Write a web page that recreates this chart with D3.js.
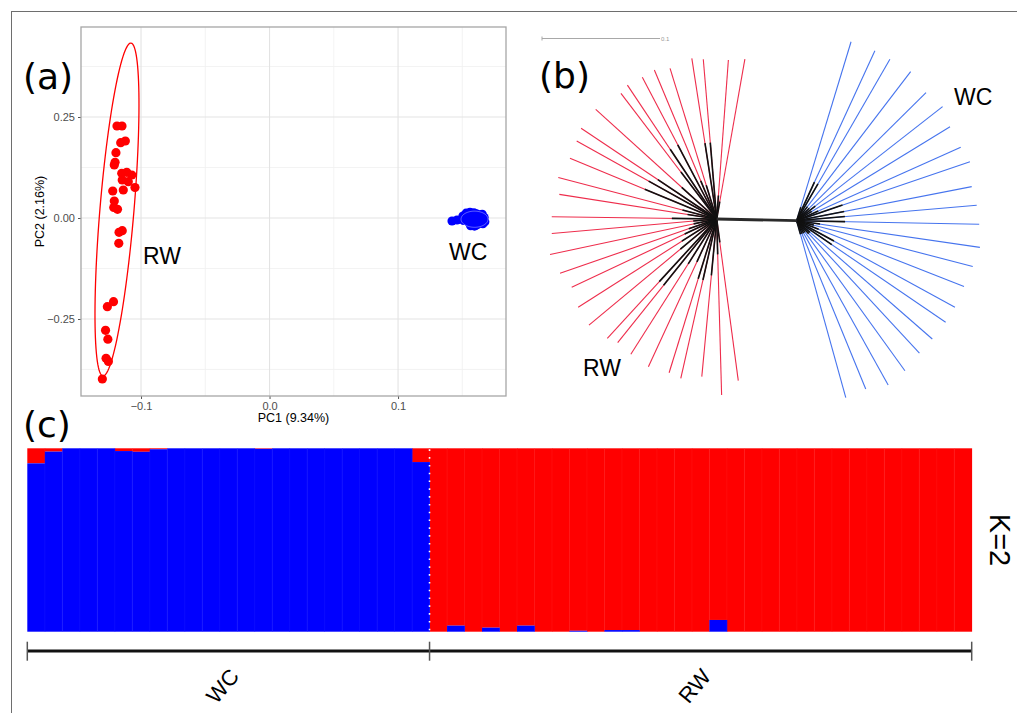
<!DOCTYPE html>
<html>
<head>
<meta charset="utf-8">
<script src="https://cdn.jsdelivr.net/npm/d3@7"></script>
<style>
  body { margin: 0; background: #fff; }
  svg { display: block; }
</style>
</head>
<body>
<svg id="fig"></svg>
<script>
// ---- (a) PCA scores ----
const rwPC = [
  [-0.1187, 0.2277], [-0.1148, 0.2277], [-0.1158, 0.1864], [-0.1122, 0.1906],
  [-0.1195, 0.1616], [-0.1202, 0.1379], [-0.1208, 0.1312], [-0.1150, 0.1106],
  [-0.1111, 0.1131], [-0.1072, 0.1064], [-0.1146, 0.0941], [-0.1099, 0.0899],
  [-0.1047, 0.0755], [-0.1138, 0.0693], [-0.1220, 0.0668], [-0.1208, 0.0421],
  [-0.1212, 0.0260], [-0.1183, 0.0215], [-0.1146, -0.0314], [-0.1171, -0.0354],
  [-0.1173, -0.0626], [-0.1214, -0.2072], [-0.1262, -0.2196], [-0.1276, -0.2780],
  [-0.1258, -0.3000], [-0.1272, -0.3473], [-0.1254, -0.3550], [-0.1301, -0.3985]
];
const wcPC = [
  [0.1420, -0.0074], [0.1459, -0.0050], [0.1505, 0.0050], [0.1510, -0.0060],
  [0.1530, 0.0120], [0.1540, 0.0000], [0.1550, -0.0110], [0.1560, 0.0140],
  [0.1570, 0.0060], [0.1575, -0.0040], [0.1580, -0.0150], [0.1590, 0.0130],
  [0.1600, 0.0030], [0.1605, -0.0080], [0.1610, 0.0100], [0.1615, -0.0170],
  [0.1620, 0.0000], [0.1630, 0.0080], [0.1635, -0.0120], [0.1640, 0.0040],
  [0.1650, -0.0050], [0.1655, 0.0090], [0.1660, -0.0140], [0.1670, 0.0010],
  [0.1675, -0.0090], [0.1565, -0.0190], [0.1595, -0.0200]
];
// ellipse: centre, major axis vector, minor axis vector (PC units)
const rwEllipse = [-0.1187, 0.0210, 0.0109, 0.4121, 0.0132, -0.0035];
const wcEllipse = [0.1595, -0.0030, 0.0105, 0.0, 0.0, 0.0200];
const xTicks = [-0.1, 0.0, 0.1];
const xMinor = [-0.05, 0.05, 0.15];
const yTicks = [-0.25, 0.0, 0.25];
const yMinor = [-0.375, -0.125, 0.125, 0.375];

// ---- (b) unrooted NJ tree: [angle deg, tip length, black inner length] ----
const rwTree = [
  [98.8, 0.1378, 0.065], [94.8, 0.1358, 0.065], [85.8, 0.1351, 0.020], [80.0, 0.1375, 0.015],
  [107.2, 0.1337, 0.030], [112.7, 0.1369, 0.035], [117.7, 0.1356, 0.071], [123.7, 0.1364, 0.071],
  [127.3, 0.1339, 0.050], [137.8, 0.1384, 0.040], [146.2, 0.1383, 0.060], [150.9, 0.1358, 0.066],
  [157.5, 0.1346, 0.066], [165.3, 0.1388, 0.030], [171.1, 0.1350, 0.025], [179.2, 0.1398, 0.038],
  [185.0, 0.1403, 0.020], [192.0, 0.1444, 0.020], [199.1, 0.1405, 0.025], [205.2, 0.1358, 0.030],
  [212.5, 0.1392, 0.035], [219.7, 0.1407, 0.040], [227.5, 0.1372, 0.072], [231.3, 0.1342, 0.072],
  [237.6, 0.1358, 0.045], [245.2, 0.1380, 0.040], [252.8, 0.1364, 0.053], [257.3, 0.1384, 0.053],
  [264.6, 0.1342, 0.048], [271.6, 0.1492, 0.030], [277.6, 0.1382, 0.020]
];
const wcTree = [
  [73.1, 0.1585, 0.012], [65.3, 0.1586, 0.036], [60.0, 0.1580, 0.036], [52.6, 0.1590, 0.015],
  [44.7, 0.1542, 0.015], [38.0, 0.1569, 0.020], [31.5, 0.1524, 0.015], [24.1, 0.1523, 0.020],
  [18.8, 0.1551, 0.041], [11.0, 0.1511, 0.041], [4.9, 0.1531, 0.041], [-1.1, 0.1547, 0.041],
  [-8.3, 0.1569, 0.020], [-14.6, 0.1542, 0.015], [-21.5, 0.1524, 0.020], [-28.7, 0.1529, 0.036],
  [-34.3, 0.1528, 0.036], [-41.1, 0.1525, 0.015], [-47.2, 0.1531, 0.015], [-54.2, 0.1568, 0.012],
  [-60.9, 0.1594, 0.012], [-67.7, 0.1542, 0.012], [-74.5, 0.1557, 0.012]
];
const internalBranch = [-1.2, 0.0678];
const scaleBarLen = 0.1;

// ---- (c) admixture K=2: share of the red cluster (WC) / blue cluster (RW) ----
const wcRed = [0.082, 0.018, 0, 0, 0, 0.015, 0.019, 0.005, 0, 0, 0, 0, 0, 0.003,
               0, 0, 0, 0, 0, 0, 0, 0, 0.075];
const rwBlue = [0, 0.033, 0, 0.022, 0, 0.033, 0, 0, 0.005, 0, 0.009, 0.009, 0, 0, 0, 0,
                0.064, 0, 0, 0, 0, 0, 0, 0, 0, 0, 0, 0, 0, 0, 0];
const groups = ["WC", "RW"];

const W = 1017, H = 713;
const svg = d3.select("#fig").attr("width", W).attr("height", H);
const labelFont = "DejaVu Sans";
const sans = "Liberation Sans, Arial, sans-serif";

// outer frame
svg.append("rect").attr("x", 11.5).attr("y", 11.5).attr("width", 1020).attr("height", 720)
  .attr("fill", "none").attr("stroke", "#6e6e6e").attr("stroke-width", 1);

// ================= (a) =================
const pa = { left: 81, right: 506, top: 27, bottom: 396 };
const x = d3.scaleLinear().domain([-0.1467, 0.184]).range([pa.left, pa.right]);
const y = d3.scaleLinear().domain([-0.4406, 0.4728]).range([pa.bottom, pa.top]);
const ga = svg.append("g");

ga.selectAll(".xminor").data(xMinor).enter().append("line")
  .attr("x1", d => x(d)).attr("x2", d => x(d)).attr("y1", pa.top).attr("y2", pa.bottom)
  .attr("stroke", "#f0f0f0").attr("stroke-width", 0.8);
ga.selectAll(".yminor").data(yMinor).enter().append("line")
  .attr("y1", d => y(d)).attr("y2", d => y(d)).attr("x1", pa.left).attr("x2", pa.right)
  .attr("stroke", "#f0f0f0").attr("stroke-width", 0.8);
ga.selectAll(".xmajor").data(xTicks).enter().append("line")
  .attr("x1", d => x(d)).attr("x2", d => x(d)).attr("y1", pa.top).attr("y2", pa.bottom)
  .attr("stroke", "#e3e3e3").attr("stroke-width", 1.1);
ga.selectAll(".ymajor").data(yTicks).enter().append("line")
  .attr("y1", d => y(d)).attr("y2", d => y(d)).attr("x1", pa.left).attr("x2", pa.right)
  .attr("stroke", "#e3e3e3").attr("stroke-width", 1.1);

const xAxis = ga.append("g").attr("transform", `translate(0,${pa.bottom})`)
  .call(d3.axisBottom(x).tickValues(xTicks).tickSize(3).tickPadding(3).tickFormat(d3.format(".1f")));
const yAxis = ga.append("g").attr("transform", `translate(${pa.left},0)`)
  .call(d3.axisLeft(y).tickValues(yTicks).tickSize(3).tickPadding(3).tickFormat(d3.format(".2f")));
[xAxis, yAxis].forEach(a => {
  a.select(".domain").remove();
  a.selectAll(".tick line").attr("stroke", "#555");
  a.selectAll(".tick text").attr("fill", "#4d4d4d").style("font-family", sans).style("font-size", "11px");
});

ga.append("rect").attr("x", pa.left).attr("y", pa.top)
  .attr("width", pa.right - pa.left).attr("height", pa.bottom - pa.top)
  .attr("fill", "none").attr("stroke", "#a6a6a6").attr("stroke-width", 1.3);

function ellipsePts(e) {
  return d3.range(0, 361, 3).map(t => {
    const r = t * Math.PI / 180;
    return [x(e[0] + e[2] * Math.cos(r) + e[4] * Math.sin(r)),
            y(e[1] + e[3] * Math.cos(r) + e[5] * Math.sin(r))];
  });
}
const line = d3.line();
ga.selectAll(".rwpt").data(rwPC).enter().append("circle")
  .attr("cx", d => x(d[0])).attr("cy", d => y(d[1])).attr("r", 4.6).attr("fill", "#ff0000");
ga.selectAll(".wcpt").data(wcPC).enter().append("circle")
  .attr("cx", d => x(d[0])).attr("cy", d => y(d[1])).attr("r", 4.6).attr("fill", "#0000ff");
ga.append("path").attr("d", line(ellipsePts(rwEllipse)))
  .attr("fill", "none").attr("stroke", "#ff0000").attr("stroke-width", 1.3);
ga.append("path").attr("d", line(ellipsePts(wcEllipse)))
  .attr("fill", "none").attr("stroke", "#ffffff").attr("stroke-width", 0.7).attr("opacity", 0.55);

ga.append("text").attr("x", (pa.left + pa.right) / 2).attr("y", 422).attr("text-anchor", "middle")
  .style("font-family", sans).style("font-size", "12.5px").text("PC1 (9.34%)");
ga.append("text").attr("transform", `translate(44,${(pa.top + pa.bottom) / 2}) rotate(-90)`)
  .attr("text-anchor", "middle").style("font-family", sans).style("font-size", "12.5px")
  .text("PC2 (2.16%)");
ga.append("text").attr("x", 143).attr("y", 264).style("font-family", sans).style("font-size", "23px").text("RW");
ga.append("text").attr("x", 449).attr("y", 260).style("font-family", sans).style("font-size", "23px").text("WC");

svg.append("text").attr("x", 23).attr("y", 89).style("font-family", labelFont).style("font-size", "36px").text("(a)");

// ================= (b) =================
const tscale = d3.scaleLinear().domain([0, 0.1]).range([0, 118]);
const gb = svg.append("g");
const hubL = [716.7, 219];
const ia = internalBranch[0] * Math.PI / 180;
const hubR = [hubL[0] + tscale(internalBranch[1]) * Math.cos(ia), hubL[1] - tscale(internalBranch[1]) * Math.sin(ia)];
const pt = (hub, a, len) => {
  const r = a * Math.PI / 180;
  return [hub[0] + tscale(len) * Math.cos(r), hub[1] - tscale(len) * Math.sin(r)];
};

// scale bar
gb.append("line").attr("x1", 542).attr("x2", 542 + tscale(scaleBarLen)).attr("y1", 38.5).attr("y2", 38.5)
  .attr("stroke", "#a8a8a8").attr("stroke-width", 1);
gb.append("line").attr("x1", 542).attr("x2", 542).attr("y1", 36.5).attr("y2", 40.5).attr("stroke", "#a8a8a8");
gb.append("text").attr("x", 542 + tscale(scaleBarLen) + 1).attr("y", 41).style("font-family", sans)
  .style("font-size", "6px").attr("fill", "#999").text("0.1");

function drawClade(data, hub, color) {
  gb.selectAll(null).data(data).enter().append("line")
    .attr("x1", hub[0]).attr("y1", hub[1])
    .attr("x2", d => pt(hub, d[0], d[1])[0]).attr("y2", d => pt(hub, d[0], d[1])[1])
    .attr("stroke", color).attr("stroke-width", 1.1);
}
drawClade(rwTree, hubL, "#ee2d4c");
drawClade(wcTree, hubR, "#4674ee");
function drawInner(data, hub) {
  gb.selectAll(null).data(data).enter().append("line")
    .attr("x1", hub[0]).attr("y1", hub[1])
    .attr("x2", d => pt(hub, d[0], d[2])[0]).attr("y2", d => pt(hub, d[0], d[2])[1])
    .attr("stroke", "#111").attr("stroke-width", 1.6);
}
drawInner(rwTree, hubL);
drawInner(wcTree, hubR);
gb.append("line").attr("x1", hubL[0]).attr("y1", hubL[1]).attr("x2", hubR[0]).attr("y2", hubR[1])
  .attr("stroke", "#2a2a2a").attr("stroke-width", 2.8);

gb.append("text").attr("x", 954).attr("y", 105).style("font-family", sans).style("font-size", "23px").text("WC");
gb.append("text").attr("x", 583).attr("y", 376).style("font-family", sans).style("font-size", "23px").text("RW");
svg.append("text").attr("x", 539).attr("y", 88).style("font-family", labelFont).style("font-size", "36px").text("(b)");

// ================= (c) =================
const samples = wcRed.map((r, i) => ({ id: "WC" + i, grp: "WC", blue: 1 - r }))
  .concat(rwBlue.map((b, i) => ({ id: "RW" + i, grp: "RW", blue: b })));
const pc = { left: 27.3, right: 971.7, top: 448.3, bottom: 631.7 };
const xb = d3.scaleBand().domain(samples.map(d => d.id)).range([pc.left, pc.right]).padding(0);
const yb = d3.scaleLinear().domain([0, 1]).range([pc.bottom, pc.top]);
const gc = svg.append("g");

gc.selectAll(".red").data(samples).enter().append("rect")
  .attr("x", d => xb(d.id)).attr("width", xb.bandwidth() + 0.4)
  .attr("y", yb(1)).attr("height", d => yb(d.blue) - yb(1)).attr("fill", "#ff0000");
gc.selectAll(".blue").data(samples).enter().append("rect")
  .attr("x", d => xb(d.id)).attr("width", xb.bandwidth() + 0.4)
  .attr("y", d => yb(d.blue)).attr("height", d => yb(0) - yb(d.blue)).attr("fill", "#0000ff");
// faint separators between individuals
gc.selectAll(".sep").data(samples.slice(1)).enter().append("line")
  .attr("x1", d => xb(d.id)).attr("x2", d => xb(d.id)).attr("y1", pc.top).attr("y2", pc.bottom)
  .attr("stroke", "#ffffff").attr("stroke-opacity", 0.045).attr("stroke-width", 1);

const nWC = wcRed.length;
const divX = xb(samples[nWC].id);
gc.append("line").attr("x1", divX).attr("x2", divX).attr("y1", pc.top + 1).attr("y2", pc.bottom)
  .attr("stroke", "#fff").attr("stroke-width", 1.6).attr("stroke-dasharray", "1.6,6.2");

// group axis
const bounds = [pc.left, divX, pc.right];
gc.append("line").attr("x1", pc.left).attr("x2", pc.right).attr("y1", 651).attr("y2", 651)
  .attr("stroke", "#111").attr("stroke-width", 3);
gc.selectAll(".gt").data(bounds).enter().append("line")
  .attr("x1", d => d).attr("x2", d => d).attr("y1", 641.7).attr("y2", 660.7)
  .attr("stroke", "#555").attr("stroke-width", 1.5);
gc.selectAll(".gl").data(groups).enter().append("text")
  .attr("transform", (d, i) => `translate(${(bounds[i] + bounds[i + 1]) / 2 - 6},${686}) rotate(-50)`)
  .attr("text-anchor", "middle").attr("dy", "0.35em")
  .style("font-family", sans).style("font-size", "22px").text(d => d);

gc.append("text").attr("transform", `translate(990,540) rotate(90)`)
  .attr("text-anchor", "middle").style("font-family", sans).style("font-size", "29px").text("K=2");

svg.append("text").attr("x", 23).attr("y", 437).style("font-family", labelFont).style("font-size", "36px").text("(c)");
</script>
</body>
</html>
